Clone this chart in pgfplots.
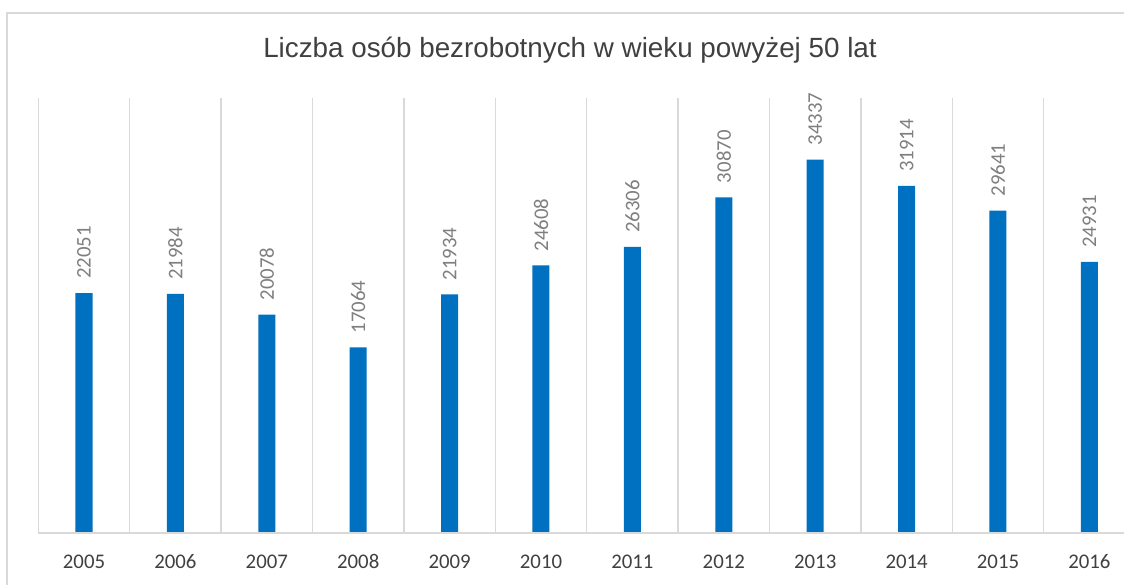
\documentclass[border=0pt]{standalone}
\usepackage{pgfplots}
\pgfplotsset{compat=1.18}
\usepackage{fontspec}
\setmainfont{Carlito}
\newfontfamily\titlefont{Liberation Sans}
\definecolor{barblue}{HTML}{0070C0}
\definecolor{gridgray}{HTML}{D9D9D9}
\definecolor{titlegray}{HTML}{404040}
\definecolor{labelgray}{HTML}{7F7F7F}
\begin{document}
\begin{tikzpicture}[x=1pt,y=1pt]
\useasboundingbox (0,0) rectangle (1124,584);
\clip (0,0) rectangle (1124,584);
\fill[white] (0,0) rectangle (1124,584);
\draw[gridgray, line width=1.5pt] (7,-10) -- (7,571) -- (1140,571);
\node[anchor=base, font=\titlefont\fontsize{27.8}{30}\selectfont, text=titlegray, inner sep=0pt] at (570,526) {Liczba osób bezrobotnych w wieku powyżej 50 lat};
\begin{axis}[
  at={(38.3pt,51pt)}, anchor=south west,
  scale only axis,
  width=1096.8pt, height=435pt,
  xmin=-0.5, xmax=11.5, ymin=0, ymax=40000,
  axis line style={draw=none},
  ytick=\empty,
  xtick={0,...,11},
  xticklabels={2005,2006,2007,2008,2009,2010,2011,2012,2013,2014,2015,2016},
  minor xtick={-0.5,0.5,...,11.5},
  xminorgrids=true,
  minor grid style={gridgray, line width=1.5pt},
  major tick length=0pt, minor tick length=0pt,
  xticklabel style={anchor=base, yshift=-35pt, font=\fontsize{20.8}{24}\selectfont, text=titlegray},
  ybar, bar width=17pt,
  point meta=explicit symbolic,
  nodes near coords,
  every node near coord/.append style={rotate=90, anchor=west, font=\fontsize{20.8}{24}\selectfont, text=labelgray, inner xsep=14pt, inner ysep=0pt},
  clip=false,
]
\addplot[fill=barblue, draw=none] table[x=x, y=y, meta=y] {
x y
0 22051
1 21984
2 20078
3 17064
4 21934
5 24608
6 26306
7 30870
8 34337
9 31914
10 29641
11 24931
};
\draw[gridgray, line width=1.5pt] (rel axis cs:0,0) -- (rel axis cs:1,0);
\end{axis}
\end{tikzpicture}
\end{document}
